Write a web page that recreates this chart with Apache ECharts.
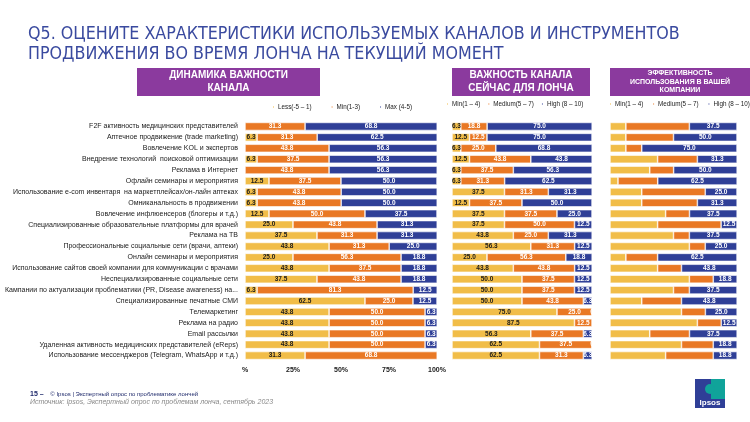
<!DOCTYPE html>
<html>
<head>
<meta charset="utf-8">
<script src="https://cdn.jsdelivr.net/npm/echarts@6/dist/echarts.min.js"></script>
<style>
  html, body { margin: 0; padding: 0; background: #fff; }
  #chart { width: 750px; height: 422px; }
</style>
</head>
<body>
<div id="chart"></div>
<script>
// каналы продвижения
var categories = [
    'F2F активность медицинских представителей',
    'Аптечное продвижение (trade marketing)',
    'Вовлечение KOL и экспертов',
    'Внедрение технологий  поисковой оптимизации',
    'Реклама в Интернет',
    'Офлайн семинары и мероприятия',
    'Использование e-com инвентаря  на маркетплейсах/он-лайн аптеках',
    'Омниканальность в продвижении',
    'Вовлечение инфлюенсеров (блогеры и т.д.)',
    'Специализированные образовательные платформы для врачей',
    'Реклама на ТВ',
    'Профессиональные социальные сети (врачи, аптеки)',
    'Онлайн семинары и мероприятия',
    'Использование сайтов своей компании для коммуникации с врачами',
    'Неспециализированные социальные сети',
    'Кампании по актуализации проблематики (PR, Disease awareness) на...',
    'Специализированные печатные СМИ',
    'Телемаркетинг',
    'Реклама на радио',
    'Email рассылки',
    'Удаленная активность медицинских представителей (eReps)',
    'Использование мессенджеров (Telegram, WhatsApp и т.д.)'
];

// динамика важности канала
var dynLess = [null, 6.3, null, 6.3, null, 12.5, 6.3, 6.3, 12.5, 25.0, 37.5, 43.8, 25.0, 43.8, 37.5, 6.3, 62.5, 43.8, 43.8, 43.8, 43.8, 31.3];
var dynMin  = [31.3, 31.3, 43.8, 37.5, 43.8, 37.5, 43.8, 43.8, 50.0, 43.8, 31.3, 31.3, 56.3, 37.5, 43.8, 81.3, 25.0, 50.0, 50.0, 50.0, 50.0, 68.8];
var dynMax  = [68.8, 62.5, 56.3, 56.3, 56.3, 50.0, 50.0, 50.0, 37.5, 31.3, 31.3, 25.0, 18.8, 18.8, 18.8, 12.5, 12.5, 6.3, 6.3, 6.3, 6.3, 0];

// важность канала сейчас
var nowMin    = [6.3, 12.5, 6.3, 12.5, 6.3, 6.3, 37.5, 12.5, 37.5, 37.5, 43.8, 56.3, 25.0, 43.8, 50.0, 50.0, 50.0, 75.0, 87.5, 56.3, 62.5, 62.5];
var nowMedium = [18.8, 12.5, 25.0, 43.8, 37.5, 31.3, 31.3, 37.5, 37.5, 50.0, 25.0, 31.3, 56.3, 43.8, 37.5, 37.5, 43.8, 25.0, 12.5, 37.5, 37.5, 31.3];
var nowHigh   = [75.0, 75.0, 68.8, 43.8, 56.3, 62.5, 31.3, 50.0, 25.0, 12.5, 31.3, 12.5, 18.8, 12.5, 12.5, 12.5, 6.3, 0, null, 6.3, 0, 6.3];

// эффективность использования в компании
var effMin    = [12.5, 12.5, 12.5, 37.5, 31.3, 6.3, 25.0, 25.0, 43.8, 37.5, 50.0, 62.5, 12.5, 37.5, 62.5, 50.0, 25.0, 56.3, 68.8, 31.3, 56.3, 43.8];
var effMedium = [50.0, 37.5, 12.5, 31.3, 18.8, 31.3, 50.0, 43.8, 18.8, 50.0, 12.5, 12.5, 25.0, 18.8, 18.8, 12.5, 31.3, 18.8, 18.8, 31.3, 25.0, 37.5];
var effHigh   = [37.5, 50.0, 75.0, 31.3, 50.0, 62.5, 25.0, 31.3, 37.5, 12.5, 37.5, 25.0, 62.5, 43.8, 18.8, 37.5, 43.8, 25.0, 12.5, 37.5, 18.8, 18.8];

var pctTicks = ['%', '25%', '50%', '75%', '100%'];

var YELLOW = '#f1bd48';
var ORANGE = '#e97824';
var BLUE = '#2f3f97';
var PURPLE = '#8b3a9e';
var FONT = 'Liberation Sans';

var chart = echarts.init(document.getElementById('chart'));

function fmt(p) {
    if (p.value === null || p.value === undefined) return '';
    return p.value === 0 ? '0' : p.value.toFixed(1);
}

function bar(name, data, color, idx, showLabel, dark) {
    return {
        name: name,
        type: 'bar',
        stack: 's' + idx,
        xAxisIndex: idx,
        yAxisIndex: idx,
        barWidth: 8,
        data: data,
        itemStyle: { color: color, borderColor: '#fff', borderWidth: 0.6 },
        label: {
            show: showLabel,
            position: 'inside',
            formatter: fmt,
            fontFamily: FONT,
            fontSize: 6.5,
            fontWeight: 'bold',
            color: dark ? '#1a1a1a' : '#fff'
        }
    };
}

function legendAt(left, top, names, gap) {
    return {
        left: left, top: top,
        width: 200,
        padding: 0,
        data: names,
        icon: 'rect',
        itemWidth: 3, itemHeight: 3,
        itemGap: gap,
        textStyle: { fontFamily: FONT, fontSize: 6.3, color: '#222', padding: [0, 0, 0, -2] }
    };
}

var grids = [
    { left: 245, width: 192, top: 121, height: 240 },
    { left: 452, width: 140, top: 121, height: 240 },
    { left: 610, width: 127, top: 121, height: 240 }
];

var option = {
    animation: false,
    grid: grids,
    legend: [
        legendAt(271, 104, ['Less(-5 – 1)', 'Min(1-3)', 'Max (4-5)'], 18),
        legendAt(445, 101, ['Min(1 – 4)', 'Medium(5 – 7)', 'High (8 – 10)'], 6),
        legendAt(608, 101, ['Min(1 – 4) ', 'Medium(5 – 7) ', 'High (8 – 10) '], 6)
    ],
    xAxis: [0, 1, 2].map(function (i) {
        return {
            gridIndex: i,
            type: 'value',
            min: 0, max: 100, interval: 25,
            splitLine: { show: false },
            axisLine: { show: false },
            axisTick: { show: false },
            axisLabel: {
                show: i === 0,
                formatter: function (v) { return pctTicks[v / 25]; },
                fontFamily: FONT, fontSize: 7, fontWeight: 'bold', color: '#1a1a1a',
                margin: 6
            }
        };
    }),
    yAxis: [0, 1, 2].map(function (i) {
        return {
            gridIndex: i,
            type: 'category',
            inverse: true,
            data: categories,
            axisLine: { show: false },
            axisTick: { show: false },
            axisLabel: {
                show: i === 0,
                fontFamily: FONT, fontSize: 7, color: '#1a1a1a',
                margin: 7
            }
        };
    }),
    series: [
        bar('Less(-5 – 1)', dynLess, YELLOW, 0, true, true),
        bar('Min(1-3)', dynMin, ORANGE, 0, true, false),
        bar('Max (4-5)', dynMax, BLUE, 0, true, false),
        bar('Min(1 – 4)', nowMin, YELLOW, 1, true, true),
        bar('Medium(5 – 7)', nowMedium, ORANGE, 1, true, false),
        bar('High (8 – 10)', nowHigh, BLUE, 1, true, false),
        bar('Min(1 – 4) ', effMin, YELLOW, 2, false, true),
        bar('Medium(5 – 7) ', effMedium, ORANGE, 2, false, false),
        bar('High (8 – 10) ', effHigh, BLUE, 2, true, false)
    ],
    graphic: [
        {
            type: 'text', left: 28, top: 24,
            style: {
                text: 'Q5. ОЦЕНИТЕ ХАРАКТЕРИСТИКИ ИСПОЛЬЗУЕМЫХ КАНАЛОВ И ИНСТРУМЕНТОВ\nПРОДВИЖЕНИЯ ВО ВРЕМЯ ЛОНЧА НА ТЕКУЩИЙ МОМЕНТ',
                font: '17.7px "Liberation Sans Narrow", "DejaVu Sans Condensed", sans-serif',
                fill: '#3a4a9f', lineHeight: 20
            }
        },
        { type: 'rect', shape: { x: 137, y: 68, width: 183, height: 28 }, style: { fill: PURPLE } },
        {
            type: 'text', x: 228.5, y: 82,
            style: {
                text: 'ДИНАМИКА ВАЖНОСТИ\nКАНАЛА', align: 'center', verticalAlign: 'middle',
                font: 'bold 10px "Liberation Sans Narrow", sans-serif', fill: '#fff', lineHeight: 13
            }
        },
        { type: 'rect', shape: { x: 452, y: 68, width: 138, height: 28 }, style: { fill: PURPLE } },
        {
            type: 'text', x: 521, y: 82,
            style: {
                text: 'ВАЖНОСТЬ КАНАЛА\nСЕЙЧАС ДЛЯ ЛОНЧА', align: 'center', verticalAlign: 'middle',
                font: 'bold 10px "Liberation Sans Narrow", sans-serif', fill: '#fff', lineHeight: 13
            }
        },
        { type: 'rect', shape: { x: 610, y: 68, width: 140, height: 28 }, style: { fill: PURPLE } },
        {
            type: 'text', x: 680, y: 82,
            style: {
                text: 'ЭФФЕКТИВНОСТЬ\nИСПОЛЬЗОВАНИЯ В ВАШЕЙ\nКОМПАНИИ', align: 'center', verticalAlign: 'middle',
                font: 'bold 7px "Liberation Sans Narrow", sans-serif', fill: '#fff', lineHeight: 8.5
            }
        },
        {
            type: 'text', left: 30, top: 388,
            style: {
                rich: {
                    n: { font: 'bold 7px ' + FONT, fill: '#1f2a6b' },
                    t: { font: '6px ' + FONT, fill: '#1f2a6b' }
                },
                text: '{n|15 –}  {t|© Ipsos | Экспертный опрос по проблематике лончей}'
            }
        },
        {
            type: 'text', left: 30, top: 399,
            style: {
                text: 'Источник: Ipsos, Экспертный опрос по проблемам лонча, сентябрь 2023',
                font: 'italic 7px ' + FONT, fill: '#888'
            }
        },
        { type: 'rect', shape: { x: 695, y: 379, width: 30, height: 29 }, style: { fill: '#2f3f97' } },
        { type: 'rect', shape: { x: 711, y: 379, width: 14, height: 20 }, style: { fill: '#10a39a' } },
        { type: 'circle', shape: { cx: 710, cy: 389, r: 5 }, style: { fill: '#10a39a' } },
        {
            type: 'text', x: 710, y: 403,
            style: { text: 'Ipsos', align: 'center', verticalAlign: 'middle', font: 'bold 8px ' + FONT, fill: '#fff' }
        }
    ]
};

chart.setOption(option);
</script>
</body>
</html>
